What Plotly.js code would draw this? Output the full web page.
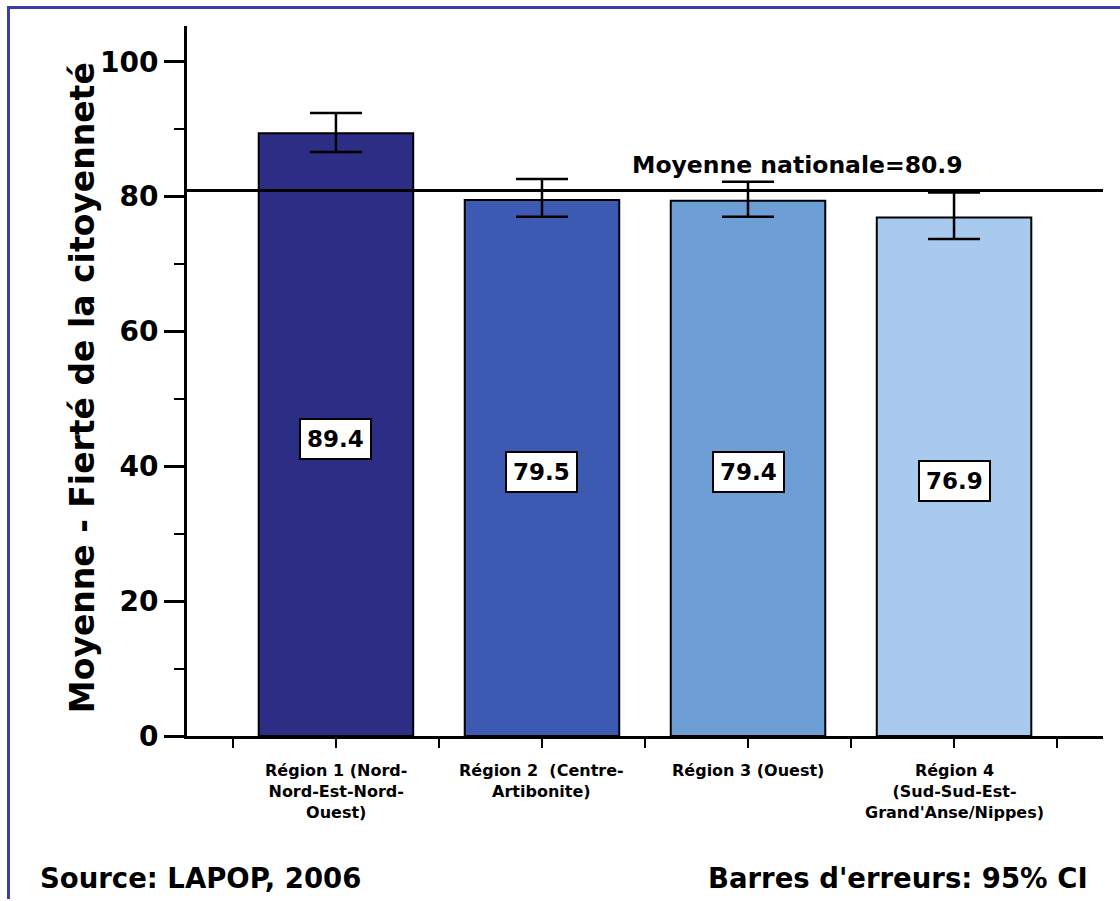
<!DOCTYPE html>
<html><head><meta charset="utf-8">
<script src="https://cdn.plot.ly/plotly-3.0.1.min.js"></script>
<style>
html,body{margin:0;padding:0;background:#fff;}
#chart{width:1120px;height:901px;}
#frame{position:absolute;left:7px;top:6px;width:1113px;height:893px;border-left:3px solid #3c3caa;border-top:3px solid #3c3caa;pointer-events:none;box-sizing:border-box;}
</style>
</head><body>
<div id="chart"></div><div id="frame"></div>
<script>
const regions = ["Région 1 (Nord-<br>Nord-Est-Nord-<br>Ouest)", "Région 2  (Centre-<br>Artibonite)", "Région 3 (Ouest)", "Région 4<br>(Sud-Sud-Est-<br>Grand'Anse/Nippes)"];
const means = [89.4, 79.5, 79.4, 76.9];
const ciHigh = [92.4, 82.6, 82.2, 80.6];
const ciLow = [86.6, 77.0, 77.0, 73.7];
const barColors = ["#2c2d84", "#3d5ab3", "#6d9fd6", "#a8caee"];
const nationalMean = 80.9;
const meanLabel = "Moyenne nationale=80.9";
const yTitle = "Moyenne - Fierté de la citoyenneté";
const sourceText = "Source: LAPOP, 2006";
const errorText = "Barres d'erreurs: 95% CI";

const xPos = regions.map((r, i) => i);
const bold = "DejaVu Sans";

const tickvals = [];
for (let i = -1; i < regions.length; i++) {
  if (i >= 0) tickvals.push(i);
  tickvals.push(i + 0.5);
}

const trace = {
  type: "bar",
  x: xPos,
  y: means,
  width: 0.75,
  marker: {color: barColors, line: {color: "#000", width: 2}},
  error_y: {
    type: "data", symmetric: false,
    array: means.map((m, i) => ciHigh[i] - m),
    arrayminus: means.map((m, i) => m - ciLow[i]),
    color: "#000", thickness: 2.5, width: 26
  },
  hoverinfo: "skip"
};

const annotations = means.map((m, i) => ({
  x: i, y: m / 2, xref: "x", yref: "y", text: m.toFixed(1), showarrow: false,
  yshift: -4,
  font: {family: bold, size: 23, color: "#000", weight: "bold"},
  bgcolor: "#fff", bordercolor: "#000", borderwidth: 2, borderpad: 6
}));
regions.forEach((r, i) => {
  annotations.push({
    x: i, y: 0, xref: "x", yref: "y", text: r, showarrow: false,
    xanchor: "center", yanchor: "top", yshift: -23,
    font: {family: bold, size: 16, color: "#000", weight: "bold"}
  });
});
annotations.push({
  x: 2.24, y: nationalMean, xref: "x", yref: "y", text: meanLabel, showarrow: false,
  yanchor: "bottom", yshift: 10,
  font: {family: bold, size: 23.5, color: "#000", weight: "bold"}
});
annotations.push({
  x: -0.1146, y: 0.49, xref: "paper", yref: "paper", text: yTitle, showarrow: false,
  textangle: -90, xanchor: "center", yanchor: "middle",
  font: {family: bold, size: 33, color: "#000", weight: "bold"}
});
annotations.push({
  x: -0.1627, y: -0.2, xref: "paper", yref: "paper", text: sourceText, showarrow: false,
  xanchor: "left", yanchor: "middle",
  font: {family: bold, size: 27.5, color: "#000", weight: "bold"}
});
annotations.push({
  x: 0.986, y: -0.2, xref: "paper", yref: "paper", text: errorText, showarrow: false,
  xanchor: "right", yanchor: "middle",
  font: {family: bold, size: 27.5, color: "#000", weight: "bold"}
});

const layout = {
  width: 1120, height: 901,
  margin: {l: 187, r: 17, t: 26, b: 165},
  paper_bgcolor: "#fff", plot_bgcolor: "#fff",
  showlegend: false,
  xaxis: {
    range: [-0.723, 3.723], tickmode: "array", tickvals: tickvals, showticklabels: false,
    showline: true, linecolor: "#000", linewidth: 3, showgrid: false, zeroline: false,
    ticks: "outside", ticklen: 9, tickwidth: 2, tickcolor: "#000"
  },
  yaxis: {
    range: [0, 105.3], tickvals: [0, 20, 40, 60, 80, 100],
    showline: true, linecolor: "#000", linewidth: 3, showgrid: false, zeroline: false,
    ticks: "outside", ticklen: 20, tickwidth: 3, tickcolor: "#000",
    minor: {dtick: 10, tick0: 0, ticks: "outside", ticklen: 10, tickwidth: 2, tickcolor: "#000", showgrid: false},
    tickfont: {family: bold, size: 28, color: "#000", weight: "bold"}
  },
  shapes: [{
    type: "line", xref: "paper", x0: 0, x1: 1, yref: "y", y0: nationalMean, y1: nationalMean,
    line: {color: "#000", width: 3}
  }],
  annotations: annotations
};

Plotly.newPlot("chart", [trace], layout, {displayModeBar: false, staticPlot: true});
</script>
</body></html>
